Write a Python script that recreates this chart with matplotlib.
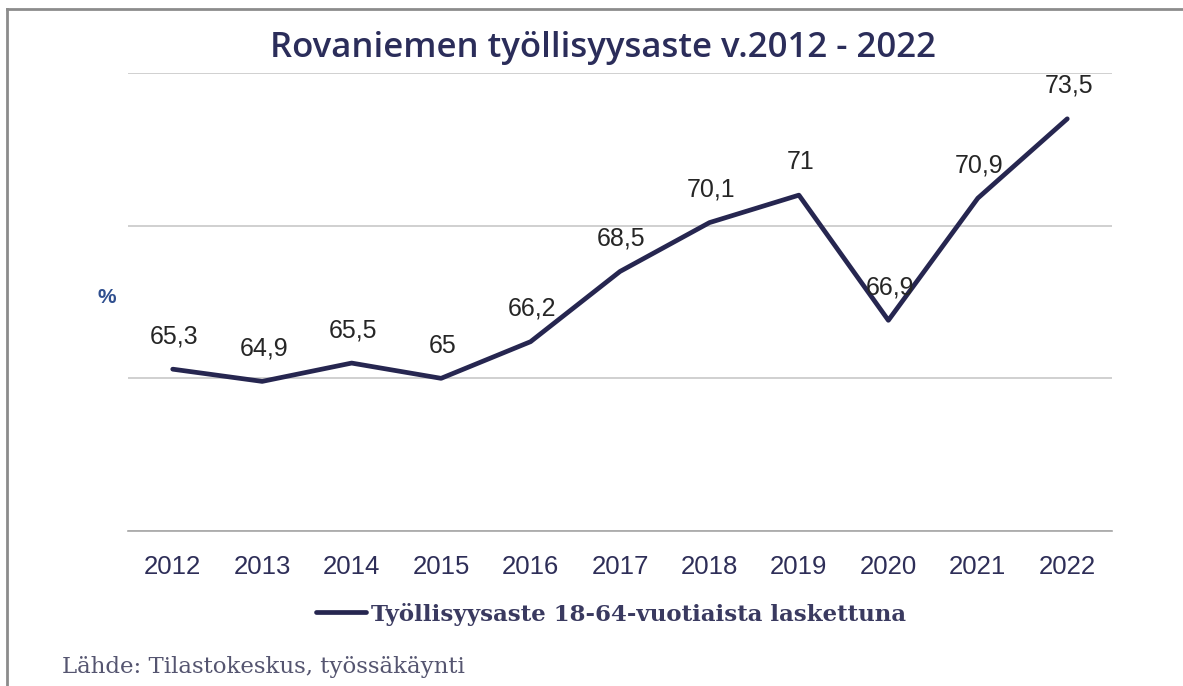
import matplotlib
matplotlib.use('Agg')
from matplotlib import pyplot as plt
from matplotlib.lines import Line2D

# data
vuodet = ['2012', '2013', '2014', '2015', '2016', '2017', '2018', '2019', '2020', '2021', '2022']
tyollisyysaste = [65.3, 64.9, 65.5, 65.0, 66.2, 68.5, 70.1, 71.0, 66.9, 70.9, 73.5]
arvo_tekstit = ['65,3', '64,9', '65,5', '65', '66,2', '68,5', '70,1', '71', '66,9', '70,9', '73,5']
y_tikit = [60, 65, 70, 75]

navy = '#262650'

fig = plt.figure(figsize=(11.83, 6.86), dpi=100)
ax = fig.add_axes([128 / 1183, 1 - 531 / 686, (1112 - 128) / 1183, (531 - 73) / 686])

x = list(range(len(vuodet)))
ax.plot(x, tyollisyysaste, color=navy, linewidth=3.4, solid_capstyle='round',
        label='Työllisyysaste 18-64-vuotiaista laskettuna')

for xi, yi, t in zip(x, tyollisyysaste, arvo_tekstit):
    ax.annotate(t, (xi, yi), xytext=(1, 15), textcoords='offset points',
                ha='center', va='bottom', fontsize=18, color='#262626',
                family='Liberation Sans')

ax.set_xlim(-0.5, len(vuodet) - 0.5)
ax.set_ylim(60, 75)
ax.set_yticks(y_tikit)
ax.set_yticklabels([])
ax.set_xticks(x)
ax.set_xticklabels(vuodet, fontsize=18.5, color='#2e2e58', family='Liberation Sans')
ax.tick_params(axis='both', length=0)
ax.tick_params(axis='x', pad=17)
ax.grid(axis='y', color='#c8c8c8', linewidth=1.2)
ax.set_axisbelow(True)
for s in ['top', 'right', 'left']:
    ax.spines[s].set_visible(False)
ax.spines['bottom'].set_color('#a6a6a6')
ax.spines['bottom'].set_linewidth(1.2)

ax.set_ylabel('%', rotation=0, fontsize=15, fontweight='bold', color='#2f4f8f',
              family='Liberation Sans')
ax.yaxis.set_label_coords(-0.022, 0.49)

fig.text(603 / 1183, 1 - 48 / 686, 'Rovaniemen työllisyysaste v.2012 - 2022',
         ha='center', va='center', fontsize=25, color='#2b2d5a', family='Open Sans',
         fontweight='semibold')

leg = fig.legend(loc='center', bbox_to_anchor=(611 / 1183, 1 - 614 / 686), frameon=False,
                 prop={'family': 'DejaVu Serif', 'weight': 'bold', 'size': 16.5},
                 handlelength=2.2, handletextpad=0.2)
for t in leg.get_texts():
    t.set_color('#3a3a60')

fig.text(62 / 1183, 1 - 667 / 686, 'Lähde: Tilastokeskus, työssäkäynti',
         ha='left', va='center', fontsize=16.5, color='#555570', family='DejaVu Serif')

# kehys
fig.add_artist(Line2D([7 / 1183, 7 / 1183], [0, 1 - 9 / 686], transform=fig.transFigure,
                      color='#8c8c8c', linewidth=2))
fig.add_artist(Line2D([7 / 1183, 1], [1 - 9 / 686, 1 - 9 / 686], transform=fig.transFigure,
                      color='#8c8c8c', linewidth=2))

fig.savefig('out.png', dpi=100)
